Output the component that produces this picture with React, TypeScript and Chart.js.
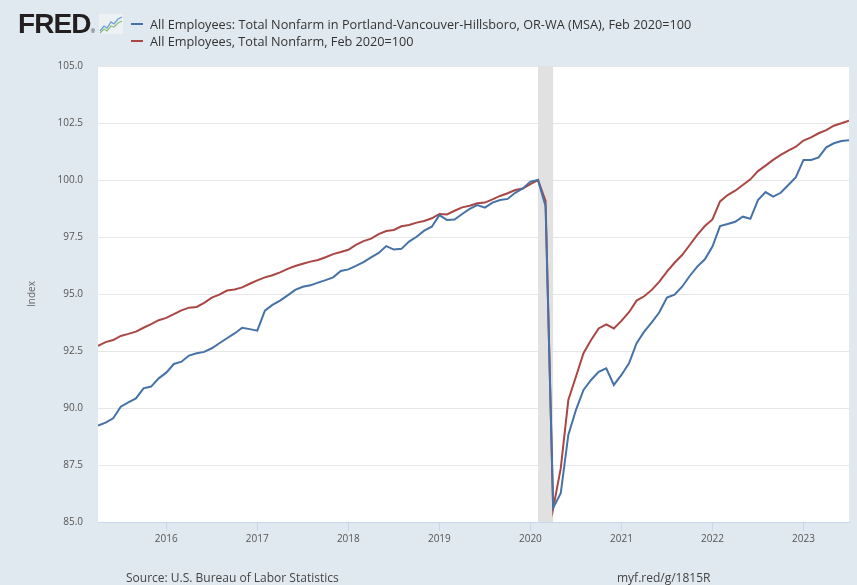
import React, { useEffect, useRef } from 'react';
import { Chart, registerables } from 'chart.js';

Chart.register(...registerables);

// Monthly observations, April 2015 through July 2023 (Feb 2020 = 100)
const START_YEAR = 2015;
const START_MONTH = 4;

const portlandLabel =
  'All Employees: Total Nonfarm in Portland-Vancouver-Hillsboro, OR-WA (MSA), Feb 2020=100';
const usLabel = 'All Employees, Total Nonfarm, Feb 2020=100';

const portland = [
  89.23, 89.36, 89.55, 90.06, 90.25, 90.42, 90.86, 90.94, 91.30, 91.55,
  91.93, 92.03, 92.30, 92.40, 92.46, 92.62, 92.84, 93.06, 93.27, 93.52,
  93.46, 93.39, 94.27, 94.52, 94.71, 94.94, 95.18, 95.32, 95.38, 95.50,
  95.61, 95.73, 96.01, 96.08, 96.23, 96.40, 96.61, 96.80, 97.10, 96.95,
  96.98, 97.30, 97.51, 97.78, 97.95, 98.46, 98.25, 98.27, 98.51, 98.73,
  98.90, 98.79, 99.01, 99.12, 99.17, 99.44, 99.63, 99.93, 100.0, 98.85,
  85.62, 86.26, 88.82, 89.91, 90.79, 91.23, 91.59, 91.74, 91.01, 91.45,
  91.96, 92.84, 93.35, 93.76, 94.20, 94.84, 94.97, 95.32, 95.79, 96.20,
  96.52, 97.08, 97.98, 98.07, 98.17, 98.39, 98.30, 99.12, 99.47, 99.27,
  99.44, 99.78, 100.12, 100.88, 100.88, 100.99, 101.43, 101.61, 101.71, 101.74,
];

const usTotal = [
  92.72, 92.89, 92.98, 93.16, 93.25, 93.35, 93.52, 93.68, 93.85, 93.95,
  94.12, 94.28, 94.40, 94.43, 94.61, 94.84, 94.97, 95.15, 95.20, 95.29,
  95.45, 95.60, 95.73, 95.82, 95.95, 96.10, 96.23, 96.33, 96.42, 96.49,
  96.61, 96.75, 96.84, 96.94, 97.15, 97.32, 97.43, 97.63, 97.76, 97.81,
  97.97, 98.03, 98.13, 98.20, 98.32, 98.51, 98.49, 98.65, 98.80, 98.87,
  98.98, 99.01, 99.15, 99.30, 99.42, 99.56, 99.63, 99.82, 100.0, 99.08,
  85.60, 87.35, 90.35, 91.37, 92.40, 92.98, 93.49, 93.67, 93.49, 93.82,
  94.20, 94.71, 94.90, 95.18, 95.54, 95.98, 96.37, 96.71, 97.15, 97.59,
  97.98, 98.27, 99.06, 99.34, 99.53, 99.78, 100.03, 100.39, 100.63, 100.88,
  101.10, 101.29, 101.46, 101.73, 101.87, 102.05, 102.19, 102.38, 102.49, 102.60,
];

const yTickValues = [85, 87.5, 90, 92.5, 95, 97.5, 100, 102.5, 105];
const xTickYears = [2016, 2017, 2018, 2019, 2020, 2021, 2022, 2023];
// Recession: Feb 2020 to Apr 2020 (year, month)
const recessionStart = [2020, 2];
const recessionEnd = [2020, 4];

const toYear = (y: number, m: number) => y + (m - 1) / 12;
const months = portland.map((_, i) => toYear(START_YEAR, START_MONTH + i));

const BG = '#e1e9f0';
const FONT = '"Open Sans", "DejaVu Sans", sans-serif';

const areaPlugin = {
  id: 'areaPlugin',
  beforeDraw(chart: any) {
    const { ctx, chartArea } = chart;
    ctx.save();
    ctx.fillStyle = '#ffffff';
    ctx.fillRect(chartArea.left, chartArea.top, chartArea.right - chartArea.left, chartArea.bottom - chartArea.top);
    ctx.restore();
  },
  beforeDatasetsDraw(chart: any) {
    const { ctx, chartArea, scales } = chart;
    const x0 = scales.x.getPixelForValue(toYear(recessionStart[0], recessionStart[1]));
    const x1 = scales.x.getPixelForValue(toYear(recessionEnd[0], recessionEnd[1]));
    ctx.save();
    ctx.fillStyle = '#e1e1e1';
    ctx.fillRect(x0, chartArea.top, x1 - x0, chartArea.bottom - chartArea.top);
    ctx.restore();
  },
};

function FredIcon() {
  return (
    <svg width="24" height="20" viewBox="0 0 24 20" style={{ position: 'absolute', left: 99, top: 14 }}>
      <rect x="0" y="0" width="24" height="20" fill="#eef1f4" />
      <polyline points="1,17 5,12 8,14 12,8 15,10 19,5 23,3" fill="none" stroke="#6a9fd4" strokeWidth="1.3" />
      <polyline points="1,19 5,15 8,17 12,12 15,13 19,9 23,7" fill="none" stroke="#8fc27a" strokeWidth="1.3" />
    </svg>
  );
}

export default function App() {
  const canvasRef = useRef<HTMLCanvasElement | null>(null);

  useEffect(() => {
    const canvas = canvasRef.current;
    if (!canvas) return;
    const chart = new Chart(canvas, {
      type: 'line',
      data: {
        datasets: [
          {
            label: portlandLabel,
            data: months.map((x, i) => ({ x, y: portland[i] })),
            borderColor: '#4572a7',
            borderWidth: 2,
            pointRadius: 0,
            tension: 0,
            fill: false,
          },
          {
            label: usLabel,
            data: months.map((x, i) => ({ x, y: usTotal[i] })),
            borderColor: '#aa4643',
            borderWidth: 2,
            pointRadius: 0,
            tension: 0,
            fill: false,
          },
        ],
      },
      options: {
        animation: false,
        responsive: false,
        devicePixelRatio: 1,
        layout: { padding: { top: 66, right: 8, left: 0, bottom: 0 } },
        plugins: { legend: { display: false }, tooltip: { enabled: false } },
        scales: {
          x: {
            type: 'linear',
            min: months[0],
            max: months[months.length - 1],
            afterBuildTicks: (s: any) => {
              s.ticks = xTickYears.map((v) => ({ value: v }));
            },
            afterFit: (s: any) => {
              s.height = 63;
            },
            grid: { drawOnChartArea: false, drawTicks: true, tickLength: 9, color: '#ccd6eb' },
            border: { display: true, color: '#ccd6eb' },
            ticks: {
              padding: 2,
              color: '#555555',
              font: { family: FONT, size: 10 },
              autoSkip: false,
              maxRotation: 0,
              callback: (v: any) => String(v),
            },
          },
          y: {
            type: 'linear',
            min: 85,
            max: 105,
            afterBuildTicks: (s: any) => {
              s.ticks = yTickValues.map((v) => ({ value: v }));
            },
            afterFit: (s: any) => {
              s.width = 98;
            },
            grid: { color: '#e6e6e6', drawTicks: false },
            border: { display: false },
            ticks: {
              padding: 15,
              color: '#555555',
              font: { family: FONT, size: 10 },
              callback: (v: any) => Number(v).toFixed(1),
            },
            title: {
              display: true,
              text: 'Index',
              color: '#666666',
              font: { family: FONT, size: 10 },
              padding: { top: 26, bottom: 0 },
            },
          },
        },
      },
      plugins: [areaPlugin],
    });
    return () => chart.destroy();
  }, []);

  const textStyle: React.CSSProperties = {
    position: 'absolute',
    fontFamily: FONT,
    fontSize: 12,
    color: '#333333',
    whiteSpace: 'nowrap',
    lineHeight: '14px',
  };

  return (
    <div style={{ position: 'fixed', left: 0, top: 0, width: 857, height: 585, background: BG, overflow: 'hidden' }}>
      <canvas ref={canvasRef} width={857} height={585} style={{ position: 'absolute', left: 0, top: 0 }} />
      <div
        style={{
          position: 'absolute',
          left: 18,
          top: 8,
          fontFamily: '"Liberation Sans", Arial, sans-serif',
          fontWeight: 900,
          fontSize: 28,
          letterSpacing: -0.9,
          color: '#231f20',
          lineHeight: '32px',
        }}
      >
        FRED<span style={{ fontSize: 6, letterSpacing: 0, fontWeight: 400 }}>®</span>
      </div>
      <FredIcon />
      <div style={{ position: 'absolute', left: 131, top: 23, width: 12, height: 2, background: '#4572a7' }} />
      <div style={{ position: 'absolute', left: 131, top: 40, width: 12, height: 2, background: '#aa4643' }} />
      <div style={{ ...textStyle, fontSize: 12.7, left: 150, top: 17 }}>{portlandLabel}</div>
      <div style={{ ...textStyle, fontSize: 12.7, left: 150, top: 34 }}>{usLabel}</div>
      <div style={{ ...textStyle, left: 126, top: 571, color: '#444444' }}>Source: U.S. Bureau of Labor Statistics</div>
      <div style={{ ...textStyle, left: 617, top: 571, color: '#444444' }}>myf.red/g/1815R</div>
    </div>
  );
}
